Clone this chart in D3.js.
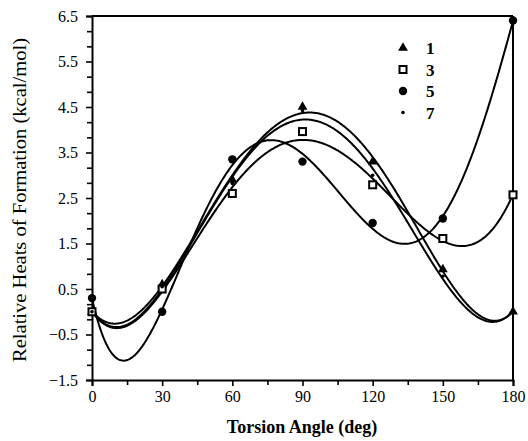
<!DOCTYPE html>
<html><head><meta charset="utf-8">
<script src="https://cdn.jsdelivr.net/npm/d3@7"></script>
<style>body{margin:0;background:#fff}svg{display:block}text{font-family:"Liberation Serif","Times New Roman",serif;fill:#000}</style>
</head><body>
<svg id="c" width="528" height="441"></svg>
<script>
const angles = [0, 30, 60, 90, 120, 150, 180];
const series1 = [0.0, 0.6, 2.9, 4.5, 3.3, 0.93, 0.0];
const series3 = [0.0, 0.5, 2.6, 3.96, 2.79, 1.61, 2.57];
const series5 = [0.3, 0.0, 3.35, 3.3, 1.95, 2.05, 6.4];
const series7 = [0.0, 0.55, 2.82, 4.42, 3.0, 0.78, 0.0];
const seriesNames = ["1", "3", "5", "7"];
const xTicks = [0, 30, 60, 90, 120, 150, 180];
const yTicks = [-1.5, -0.5, 0.5, 1.5, 2.5, 3.5, 4.5, 5.5, 6.5];
const xTitle = "Torsion Angle (deg)";
const yTitle = "Relative Heats of Formation (kcal/mol)";

const series = [
  {name: seriesNames[0], values: series1, marker: "triangle"},
  {name: seriesNames[1], values: series3, marker: "square"},
  {name: seriesNames[2], values: series5, marker: "circle"},
  {name: seriesNames[3], values: series7, marker: "dot"}
];
const fitDegree = 5;

const svg = d3.select("#c");
const x = d3.scaleLinear().domain([0, 180]).range([92, 513]);
const y = d3.scaleLinear().domain([-1.5, 6.5]).range([380, 16]);

// least-squares polynomial fit (t = angle/30)
function polyfit(xs, ys, deg) {
  const n = deg + 1;
  const A = Array.from({length: n}, () => new Array(n + 1).fill(0));
  xs.forEach((xv, i) => {
    const t = xv / 30;
    for (let r = 0; r < n; r++) {
      for (let c = 0; c < n; c++) A[r][c] += Math.pow(t, r + c);
      A[r][n] += ys[i] * Math.pow(t, r);
    }
  });
  for (let i = 0; i < n; i++) {
    let p = i;
    for (let k = i + 1; k < n; k++) if (Math.abs(A[k][i]) > Math.abs(A[p][i])) p = k;
    [A[i], A[p]] = [A[p], A[i]];
    for (let k = 0; k < n; k++) {
      if (k === i) continue;
      const f = A[k][i] / A[i][i];
      for (let c = i; c <= n; c++) A[k][c] -= f * A[i][c];
    }
  }
  const coef = A.map((row, i) => row[n] / row[i]);
  return t => coef.reduce((s, c, k) => s + c * Math.pow(t, k), 0);
}

// frame
svg.append("line").attr("x1", x(0)).attr("x2", x(180)).attr("y1", y(6.5)).attr("y2", y(6.5)).attr("stroke", "#000").attr("stroke-width", 2);
svg.append("line").attr("x1", x(180)).attr("x2", x(180)).attr("y1", y(6.5)).attr("y2", y(-1.5)).attr("stroke", "#000").attr("stroke-width", 2);

// axes
const xMinor = d3.range(15, 180, 30);
const yMinor = d3.range(0, 24).map(i => -1.5 + i / 3).filter(v => !yTicks.some(t => Math.abs(t - v) < 1e-6));

const gx = svg.append("g").attr("transform", `translate(0,${y(-1.5)})`)
  .call(d3.axisBottom(x).tickValues(xTicks).tickSize(6).tickPadding(5).tickFormat(d3.format("d")));
gx.selectAll(".tick text").style("font-size", "16px");
svg.append("g").attr("transform", `translate(0,${y(-1.5)})`)
  .call(d3.axisBottom(x).tickValues(xMinor).tickSize(5).tickFormat(""))
  .select(".domain").remove();

const gy = svg.append("g").attr("transform", `translate(${x(0)},0)`)
  .call(d3.axisLeft(y).tickValues(yTicks).tickSize(6).tickPadding(8).tickFormat(d3.format(".1f")));
gy.selectAll(".tick text").style("font-size", "16px");
svg.append("g").attr("transform", `translate(${x(0)},0)`)
  .call(d3.axisLeft(y).tickValues(yMinor).tickSize(5).tickFormat(""))
  .select(".domain").remove();

svg.selectAll(".domain").attr("stroke-width", 2);
svg.selectAll(".tick line").attr("stroke-width", 1.6);

// titles
svg.append("text").attr("x", 302).attr("y", 433).attr("text-anchor", "middle")
  .style("font-size", "18px").style("font-weight", "bold").text(xTitle);
svg.append("text").attr("transform", `translate(26,${(38 + 362) / 2}) rotate(-90)`).attr("text-anchor", "middle")
  .attr("textLength", 324).attr("lengthAdjust", "spacingAndGlyphs")
  .style("font-size", "18px").text(yTitle);

// curves
const line = d3.line().x(d => x(d[0])).y(d => y(d[1])).curve(d3.curveLinear);
const samples = d3.range(0, 180.5, 0.5);
series.forEach(s => {
  const f = polyfit(angles, s.values, fitDegree);
  svg.append("path").datum(samples.map(a => [a, f(a / 30)]))
    .attr("d", line).attr("fill", "none").attr("stroke", "#000").attr("stroke-width", 2);
});

// markers
function drawMarker(g, type, cx, cy) {
  if (type === "triangle") g.append("path").attr("d", d3.symbol(d3.symbolTriangle, 42)()).attr("transform", `translate(${cx},${cy})`).attr("fill", "#000");
  else if (type === "square") g.append("rect").attr("x", cx - 3.5).attr("y", cy - 3.5).attr("width", 7).attr("height", 7).attr("fill", "#fff").attr("stroke", "#000").attr("stroke-width", 2);
  else if (type === "circle") g.append("circle").attr("cx", cx).attr("cy", cy).attr("r", 4.2).attr("fill", "#000");
  else g.append("circle").attr("cx", cx).attr("cy", cy).attr("r", 1.8).attr("fill", "#000");
}
const gm = svg.append("g");
series.forEach(s => {
  s.values.forEach((v, i) => drawMarker(gm, s.marker, x(angles[i]), y(v)));
});

// legend
const lg = svg.append("g");
series.forEach((s, i) => {
  const ly = 48 + i * 21.5;
  drawMarker(lg, s.marker, 403, ly);
  lg.append("text").attr("x", 426).attr("y", ly + 6).style("font-size", "17px").style("font-weight", "bold").text(s.name);
});
</script>
</body></html>
